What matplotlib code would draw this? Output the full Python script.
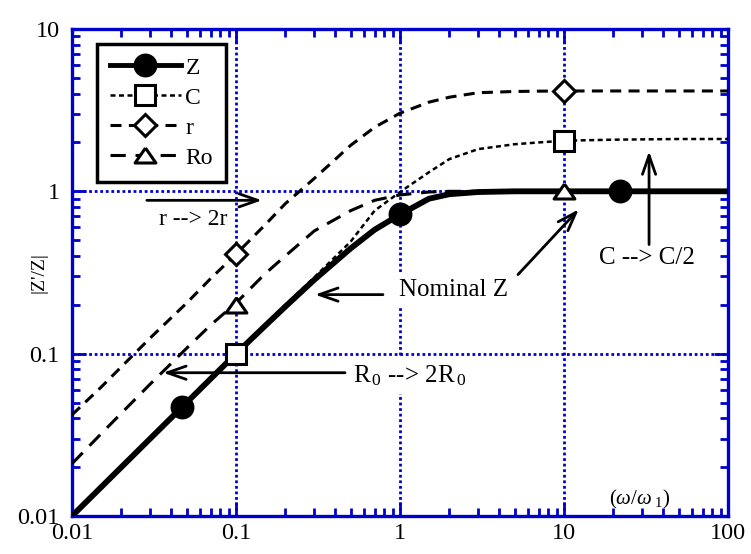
import matplotlib
matplotlib.use('Agg')
import matplotlib.pyplot as plt
from matplotlib.lines import Line2D
from matplotlib.ticker import NullFormatter, LogLocator

plt.rcParams['font.family'] = ['Liberation Serif', 'DejaVu Serif']
plt.rcParams['mathtext.fontset'] = 'custom'
plt.rcParams['mathtext.rm'] = 'Liberation Serif'
plt.rcParams['mathtext.it'] = 'Liberation Serif:italic'

# normalised frequency w/w1 and |Z'/Z| for each perturbed element
freq = [0.01, 0.015, 0.02, 0.03, 0.05, 0.07, 0.1, 0.15, 0.2, 0.3, 0.5, 0.7,
        1, 1.5, 2, 3, 5, 7, 10, 20, 50, 100]
z_nom = [0.01, 0.015, 0.02, 0.03, 0.05, 0.07, 0.1, 0.148, 0.195, 0.285, 0.445, 0.58,
         0.72, 0.9, 0.96, 0.99, 1.0, 1.0, 1.0, 1.0, 1.0, 1.0]
z_c = [0.01, 0.015, 0.02, 0.03, 0.05, 0.07, 0.1, 0.15, 0.2, 0.295, 0.49, 0.76,
       0.99, 1.31, 1.58, 1.82, 1.95, 2.0, 2.05, 2.08, 2.1, 2.1]
z_r = [0.042, 0.062, 0.083, 0.125, 0.205, 0.29, 0.41, 0.62, 0.84, 1.2, 1.92, 2.48,
       3.03, 3.54, 3.8, 4.05, 4.12, 4.14, 4.15, 4.15, 4.15, 4.15]
z_ro = [0.021, 0.032, 0.043, 0.065, 0.108, 0.15, 0.205, 0.31, 0.4, 0.57, 0.76, 0.88,
        0.95, 0.99, 1.0, 1.0, 1.0, 1.0, 1.0, 1.0, 1.0, 1.0]

# symbol positions on each curve
z_mx, z_my = [0.047, 1.0, 22.0], [0.047, 0.72, 1.0]
c_mx, c_my = [0.1, 10.0], [0.1, 2.05]
r_mx, r_my = [0.1, 10.0], [0.41, 4.15]
ro_mx, ro_my = [0.1, 10.0], [0.2, 1.0]

ticks_x = [0.01, 0.1, 1, 10, 100]
ticks_y = [0.01, 0.1, 1, 10]
tick_lbl_x = ['0.01', '0.1', '1', '10', '100']
tick_lbl_y = ['0.01', '0.1', '1', '10']

blue = '#0000cc'
tri = [(0, 0.72), (-1, -0.72), (1, -0.72), (0, 0.72)]

fig = plt.figure(figsize=(7.51, 5.54), dpi=100)
ax = fig.add_axes([0.0959, 0.0686, 0.8735, 0.8791])
ax.set_xscale('log')
ax.set_yscale('log')
ax.set_xlim(0.01, 100)
ax.set_ylim(0.01, 10)

styles = {
    'Z':  dict(ls='-', lw=4.2, marker='o', mfc='k', ms=15),
    'C':  dict(ls=(0, (2, 1.4)), lw=1.8, marker='s', mfc='w', ms=14),
    'r':  dict(ls=(0, (3.6, 2.4)), lw=2.2, marker='D', mfc='w', ms=11),
    'Ro': dict(ls=(0, (5, 3.2)), lw=2.2, marker=tri, mfc='w', ms=15),
}

curves = [('Z', z_nom, z_mx, z_my), ('C', z_c, c_mx, c_my),
          ('r', z_r, r_mx, r_my), ('Ro', z_ro, ro_mx, ro_my)]
handles = []
for name, yv, mx, my in curves[::-1]:
    st = styles[name]
    ax.plot(freq, yv, color='k', ls=st['ls'], lw=st['lw'], zorder=3)
for name, yv, mx, my in curves:
    st = styles[name]
    ax.plot(mx, my, ls='none', marker=st['marker'], ms=st['ms'], mfc=st['mfc'],
            mec='k', mew=2.2, zorder=5)
    handles.append(Line2D([], [], color='k', ls=st['ls'], lw=st['lw'] if name != 'Z' else 3.5,
                          marker=st['marker'], ms=st['ms'], mfc=st['mfc'], mec='k', mew=2.2))

leg = ax.legend(handles, [c[0] for c in curves], loc='upper left',
                bbox_to_anchor=(0.038, 0.969), borderaxespad=0, fontsize=17,
                handlelength=3.0, handletextpad=0.2, labelspacing=0.36,
                borderpad=0.55, fancybox=False, framealpha=1, numpoints=1)
leg.get_frame().set_edgecolor('k')
leg.get_frame().set_linewidth(2.5)
leg.set_zorder(6)

# axes frame, ticks and grid
for sp in ax.spines.values():
    sp.set_color(blue)
    sp.set_linewidth(2.4)
ax.grid(True, which='major', color=blue, ls=(0, (1, 1)), lw=2)
ax.set_axisbelow(True)
ax.xaxis.set_minor_locator(LogLocator(base=10, subs=range(2, 10)))
ax.yaxis.set_minor_locator(LogLocator(base=10, subs=range(2, 10)))
ax.xaxis.set_minor_formatter(NullFormatter())
ax.yaxis.set_minor_formatter(NullFormatter())
ax.set_xticks(ticks_x)
ax.set_xticklabels(tick_lbl_x)
ax.set_yticks(ticks_y)
ax.set_yticklabels(tick_lbl_y)
ax.tick_params(which='both', direction='in', top=True, right=True, color=blue,
               labelsize=17.5, labelcolor='k')
ax.tick_params(which='major', length=10, width=2)
ax.tick_params(which='minor', length=6, width=2)
ax.tick_params(axis='x', pad=5)
ax.tick_params(axis='y', pad=9)
ax.set_ylabel("|Z'/Z|", fontsize=14)
ax.yaxis.set_label_coords(-0.038, 0.5)

# annotations
arr = dict(arrowstyle='->,head_length=0.8,head_width=0.28', color='k', lw=2,
           shrinkA=0, shrinkB=0, mutation_scale=17)
box = dict(facecolor='w', edgecolor='none', pad=4)

ax.annotate('', xy=(0.144, 0.88), xytext=(0.0286, 0.88), arrowprops=arr, zorder=4)
ax.text(0.0547, 0.67, 'r --> 2r', fontsize=17, ha='center', va='center',
        bbox=box, zorder=2.5)

ax.text(2.13, 0.248, 'Nominal Z', fontsize=18, ha='center', va='center',
        bbox=box, zorder=2.5)
ax.annotate('', xy=(0.303, 0.231), xytext=(0.787, 0.231), arrowprops=arr, zorder=4)
ax.annotate('', xy=(12.3, 0.774), xytext=(5.24, 0.307), arrowprops=arr, zorder=4)

ax.annotate('', xy=(0.0359, 0.0763), xytext=(0.462, 0.0763), arrowprops=arr, zorder=4)
ax.text(0.52, 0.0663, r'R$_{\,0}$ --> 2R$_{\,0}$', fontsize=18, ha='left',
        va='baseline', bbox=box, zorder=2.5)

ax.text(32.1, 0.386, 'C --> C/2', fontsize=18, ha='center', va='center',
        bbox=box, zorder=2.5)
ax.annotate('', xy=(33.0, 1.765), xytext=(33.0, 0.47), arrowprops=arr, zorder=4)

ax.text(18.8, 0.0118, r'($\omega$/$\omega_{\ 1}$)', fontsize=15, ha='left',
        va='baseline', zorder=2.5)

fig.savefig('out.png', dpi=100)
